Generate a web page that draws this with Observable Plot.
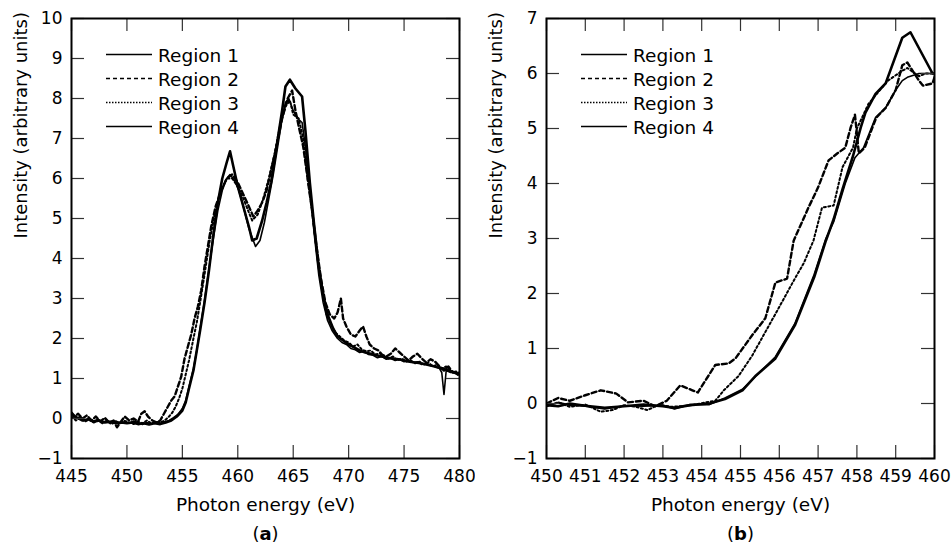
<!DOCTYPE html>
<html>
<head>
<meta charset="utf-8">
<script src="https://cdn.jsdelivr.net/npm/d3@7"></script>
<script src="https://cdn.jsdelivr.net/npm/@observablehq/plot@0.6"></script>
<style>
  body { margin: 0; background: white; }
  #wrap { display: flex; width: 951px; height: 551px; font-family: "DejaVu Sans", sans-serif; }
  .panel { position: relative; height: 551px; }
  .legend { position: absolute; left: 0; top: 0; pointer-events: none; }
</style>
</head>
<body>
<div id="wrap">
  <div class="panel" id="pa" style="width:475px"></div>
  <div class="panel" id="pb" style="width:476px"></div>
</div>
<script>
// ---------- tick labels / categories ----------
const regionNames = ["Region 1", "Region 2", "Region 3", "Region 4"];
const xTicksA = [445, 450, 455, 460, 465, 470, 475, 480];
const yTicksA = [-1, 0, 1, 2, 3, 4, 5, 6, 7, 8, 9, 10];
const xTicksB = [450, 451, 452, 453, 454, 455, 456, 457, 458, 459, 460];
const yTicksB = [-1, 0, 1, 2, 3, 4, 5, 6, 7];

// ---------- Panel (a) data ----------
const a1E = [445.0,445.5,446.0,446.5,447.0,447.5,448.0,448.5,449.0,449.5,450.0,450.5,451.0,451.5,452.0,452.5,453.0,453.5,454.0,454.5,455.0,455.3,455.6,456.0,456.3,456.6,457.0,457.4,457.8,458.2,458.6,459.0,459.3,459.6,460.0,460.5,461.0,461.3,461.7,462.2,462.6,463.0,463.5,464.0,464.3,464.7,465.2,465.8,466.1,466.5,466.9,467.3,467.7,468.1,468.6,469.0,469.5,470.0,470.5,471.0,471.5,472.0,472.5,473.0,473.5,474.0,474.5,475.0,475.5,476.0,476.5,477.0,477.5,478.0,478.5,479.0,479.5,480.0];
const a1I = [0.10,0.02,-0.05,-0.02,-0.08,-0.05,-0.10,-0.08,-0.12,-0.10,-0.12,-0.10,-0.14,-0.12,-0.15,-0.12,-0.14,-0.10,-0.05,0.05,0.20,0.40,0.75,1.20,1.70,2.20,2.90,3.70,4.60,5.40,6.00,6.40,6.68,6.30,5.80,5.30,4.80,4.45,4.50,4.95,5.40,5.90,6.80,7.70,8.30,8.47,8.25,8.05,7.20,5.90,4.80,3.80,3.10,2.60,2.25,2.05,1.95,1.85,1.78,1.70,1.65,1.62,1.58,1.55,1.52,1.50,1.48,1.45,1.42,1.40,1.38,1.35,1.32,1.28,1.25,1.20,1.15,1.10];

const a2E = [445.0,445.3,445.6,446.0,446.4,446.8,447.2,447.6,448.0,448.4,448.8,449.1,449.4,449.8,450.2,450.6,451.0,451.3,451.6,451.9,452.3,452.7,453.0,453.4,453.7,454.0,454.3,454.6,454.9,455.2,455.5,455.8,456.1,456.4,456.7,457.0,457.3,457.6,458.0,458.5,459.0,459.5,460.0,460.5,461.0,461.4,461.8,462.2,462.6,463.0,463.5,464.0,464.5,464.9,465.2,465.5,465.9,466.3,466.7,467.1,467.5,467.9,468.3,468.7,469.0,469.3,469.5,469.8,470.2,470.6,471.0,471.3,471.6,471.9,472.3,472.7,473.0,473.4,473.8,474.2,474.6,475.0,475.4,475.8,476.2,476.6,477.0,477.4,477.8,478.2,478.6,479.0,479.4,479.8,480.0];
const a2I = [0.15,0.05,0.12,0.0,0.08,-0.05,0.05,-0.08,0.02,-0.10,-0.05,-0.22,-0.10,0.05,-0.05,0.0,-0.08,0.12,0.18,0.05,-0.05,-0.10,-0.05,0.15,0.30,0.45,0.55,0.80,1.05,1.50,1.80,2.10,2.50,2.80,3.20,3.80,4.30,4.80,5.30,5.70,6.00,6.10,5.90,5.60,5.30,5.05,5.20,5.40,5.70,6.20,6.80,7.50,8.00,8.20,7.70,7.30,6.80,6.00,5.20,4.30,3.50,2.90,2.60,2.50,2.65,3.00,2.50,2.30,2.10,2.05,2.20,2.30,2.05,1.85,1.75,1.70,1.60,1.55,1.62,1.75,1.65,1.55,1.45,1.55,1.62,1.50,1.40,1.48,1.42,1.30,1.20,1.30,1.15,1.18,1.10];

const a3E = [445.0,445.4,445.8,446.2,446.6,447.0,447.4,447.8,448.2,448.6,449.0,449.4,449.8,450.2,450.6,451.0,451.4,451.8,452.2,452.6,453.0,453.4,453.8,454.1,454.4,454.7,455.0,455.3,455.6,456.0,456.3,456.6,457.0,457.5,458.0,458.5,459.0,459.5,460.0,460.5,461.0,461.3,461.8,462.3,462.8,463.3,463.8,464.3,464.7,465.0,465.5,465.9,466.3,466.8,467.2,467.6,468.0,468.4,468.8,469.2,469.6,470.0,470.4,470.8,471.2,471.6,472.0,472.4,472.8,473.2,473.6,474.0,474.4,474.8,475.2,475.6,476.0,476.4,476.8,477.2,477.6,478.0,478.4,478.8,479.2,479.6,480.0];
const a3I = [0.05,-0.05,0.02,-0.08,-0.02,-0.10,-0.05,-0.12,-0.06,-0.14,-0.08,-0.12,-0.06,-0.10,-0.14,-0.08,-0.12,-0.05,-0.12,-0.08,-0.10,-0.05,0.05,0.15,0.30,0.50,0.75,1.10,1.45,2.00,2.40,2.90,3.60,4.50,5.20,5.70,6.00,6.00,5.80,5.50,5.15,4.95,5.10,5.50,6.00,6.60,7.30,7.80,7.95,7.60,7.50,7.00,6.00,5.00,4.00,3.20,2.60,2.35,2.15,2.05,1.95,1.90,1.80,1.85,1.72,1.68,1.70,1.60,1.63,1.55,1.50,1.55,1.45,1.50,1.42,1.45,1.38,1.42,1.35,1.40,1.30,1.35,1.25,1.30,1.20,1.15,1.05];

const a4E = [445.0,445.4,445.8,446.2,446.6,447.0,447.4,447.8,448.2,448.6,449.0,449.4,449.8,450.2,450.6,451.0,451.4,451.8,452.2,452.6,453.0,453.4,453.8,454.2,454.6,455.0,455.3,455.6,456.0,456.3,456.6,457.0,457.4,457.8,458.2,458.6,459.0,459.3,459.7,460.1,460.5,461.0,461.6,462.0,462.4,462.8,463.2,463.6,464.0,464.3,464.6,465.0,465.4,465.8,466.1,466.5,466.9,467.3,467.7,468.1,468.5,469.0,469.4,469.8,470.2,470.6,471.0,471.4,471.8,472.2,472.6,473.0,473.4,473.8,474.2,474.6,475.0,475.4,475.8,476.2,476.6,477.0,477.4,477.8,478.2,478.4,478.6,478.8,479.2,479.6,480.0];
const a4I = [0.15,0.0,0.05,-0.05,0.0,-0.06,-0.02,-0.10,-0.05,-0.10,-0.06,-0.12,-0.08,-0.12,-0.06,-0.10,-0.15,-0.10,-0.14,-0.08,-0.12,-0.08,-0.05,0.02,0.10,0.25,0.45,0.80,1.25,1.70,2.25,2.95,3.75,4.50,5.20,5.70,6.00,6.10,5.95,5.70,5.30,4.75,4.30,4.45,4.90,5.50,6.10,6.80,7.50,7.90,8.00,7.70,7.50,7.40,6.80,5.70,4.60,3.60,2.90,2.45,2.20,2.00,1.90,1.85,1.75,1.72,1.65,1.68,1.60,1.58,1.52,1.55,1.48,1.50,1.45,1.48,1.42,1.45,1.40,1.42,1.35,1.38,1.32,1.30,1.25,1.15,0.60,1.20,1.15,1.15,1.10];

// ---------- Panel (b) data ----------
const b1E = [450.0,450.3,450.6,451.0,451.5,452.0,452.5,453.0,453.3,453.7,454.2,454.6,455.05,455.4,455.9,456.4,456.9,457.2,457.4,457.63,457.9,458.1,458.22,458.48,458.74,459.17,459.38,459.95,460.0];
const b1I = [-0.03,-0.05,0.0,-0.04,-0.08,-0.05,-0.02,-0.05,-0.08,-0.03,0.0,0.08,0.24,0.51,0.82,1.42,2.30,2.96,3.35,3.90,4.50,5.02,5.29,5.63,5.82,6.65,6.75,6.0,6.0];

const b2E = [450.0,450.3,450.6,451.0,451.4,451.8,452.1,452.5,452.8,453.1,453.45,453.76,453.9,454.17,454.35,454.7,454.87,455.3,455.64,455.9,456.2,456.37,456.75,457.0,457.27,457.5,457.7,457.84,457.95,458.05,458.2,458.5,458.75,459.0,459.17,459.3,459.6,459.7,459.95,460.1];
const b2I = [0.0,0.10,0.05,0.15,0.24,0.18,0.02,0.05,-0.05,0.05,0.33,0.24,0.20,0.50,0.70,0.73,0.82,1.24,1.55,2.20,2.27,2.96,3.56,3.93,4.42,4.55,4.65,5.02,5.25,4.55,4.65,5.20,5.38,5.70,6.15,6.20,5.87,5.78,5.82,6.15];

const b3E = [450.0,450.3,450.6,451.0,451.4,451.7,452.0,452.3,452.6,452.9,453.2,453.5,453.76,454.1,454.35,454.57,454.95,455.3,455.64,455.98,456.4,456.63,456.88,457.1,457.4,457.63,457.9,458.0,458.3,458.8,459.17,459.3,459.6,459.77,460.0];
const b3I = [-0.05,0.02,-0.06,-0.02,-0.15,-0.12,-0.03,-0.06,-0.12,-0.02,-0.06,-0.05,-0.03,0.02,0.05,0.24,0.50,0.87,1.30,1.73,2.27,2.55,2.96,3.56,3.60,4.30,4.65,5.00,5.45,5.87,6.05,6.10,5.95,6.00,6.00];

const b4E = [450.0,450.3,450.6,451.0,451.5,452.0,452.5,453.0,453.3,453.7,454.2,454.6,455.05,455.4,455.9,456.4,456.9,457.2,457.4,457.7,457.95,458.17,458.48,458.74,459.0,459.17,459.3,459.6,460.0];
const b4I = [-0.05,0.02,-0.03,-0.05,-0.10,-0.04,-0.05,-0.03,-0.10,-0.02,-0.02,0.10,0.26,0.50,0.85,1.45,2.35,3.00,3.30,4.00,4.47,4.65,5.20,5.38,5.70,5.87,5.93,6.00,6.00];

// ---------- line styles (not data) ----------
const styles = [
  {strokeWidth: 2.6, dash: null, legendWidth: 1.6, legendDash: null},
  {strokeWidth: 2.4, dash: "5,3", legendWidth: 1.6, legendDash: "4,3"},
  {strokeWidth: 2.0, dash: "2,2.5", legendWidth: 1.4, legendDash: "1.5,1.5"},
  {strokeWidth: 1.6, dash: null, legendWidth: 1.6, legendDash: null}
];

function rows(E, I) { return E.map((e, i) => ({E: e, I: I[i]})); }
const fmtInt = d => (d < 0 ? "\u2212" + Math.abs(d) : String(d));

function makePanel(el, width, marginRight, xDomain, yDomain, xTicks, yTicks, seriesData, caption) {
  const mT = 18, mB = 93, mL = 71, H = 551;
  const innerH = H - mT - mB, innerW = width - mL - marginRight;
  const tk = 13;
  const lineMarks = seriesData.map((d, i) => Plot.line(d, {
    x: "E", y: "I", stroke: "black",
    strokeWidth: styles[i].strokeWidth,
    strokeDasharray: styles[i].dash,
    strokeLinejoin: "round",
    clip: true
  }));
  const tickStroke = "#333";
  const chart = Plot.plot({
    width, height: H,
    marginLeft: mL, marginRight, marginTop: mT, marginBottom: mB,
    style: {fontFamily: "DejaVu Sans, sans-serif", fontSize: "17px", color: "black", background: "white", overflow: "visible"},
    x: {domain: xDomain},
    y: {domain: yDomain},
    marks: [
      ...lineMarks,
      // inward ticks on all four sides
      Plot.ruleX(xTicks, {x: d => d, insetTop: innerH - tk, stroke: tickStroke, strokeWidth: 1.2}),
      Plot.ruleX(xTicks, {x: d => d, insetBottom: innerH - tk, stroke: tickStroke, strokeWidth: 1.2}),
      Plot.ruleY(yTicks, {y: d => d, insetRight: innerW - tk, stroke: tickStroke, strokeWidth: 1.2}),
      Plot.ruleY(yTicks, {y: d => d, insetLeft: innerW - tk, stroke: tickStroke, strokeWidth: 1.2}),
      Plot.axisX(xTicks, {anchor: "bottom", tickSize: 0, tickPadding: 11, label: null, fontSize: 17, tickFormat: fmtInt}),
      Plot.axisY(yTicks, {anchor: "left", tickSize: 0, tickPadding: 9, label: null, fontSize: 17, tickFormat: fmtInt}),
      Plot.frame({stroke: "black", strokeWidth: 2}),
      Plot.text(["Photon energy (eV)"], {frameAnchor: "bottom", dy: 47, fontSize: 18.5, lineAnchor: "middle"}),
      Plot.text(["Intensity (arbitrary units)"], {frameAnchor: "left", dx: -50, rotate: -90, fontSize: 18, lineAnchor: "middle"}),
      Plot.text([caption], {frameAnchor: "bottom", dy: 76, fontSize: 18, lineAnchor: "middle", className: "cap"})
    ]
  });
  el.appendChild(chart);
  // bold letter inside the caption parentheses
  d3.select(chart).selectAll(".cap text").each(function () {
    const t = d3.select(this);
    const s = t.text();
    t.text(null);
    t.append("tspan").text("(");
    t.append("tspan").attr("font-weight", "bold").text(s.slice(1, -1));
    t.append("tspan").text(")");
  });
  // legend overlay
  const lg = d3.select(el).append("svg").attr("class", "legend")
    .attr("width", 300).attr("height", 150)
    .style("font-family", "DejaVu Sans, sans-serif").style("font-size", "18.5px");
  regionNames.forEach((name, i) => {
    const y = 54.5 + 24 * i;
    lg.append("line").attr("x1", 106).attr("x2", 152).attr("y1", y).attr("y2", y)
      .attr("stroke", "black").attr("stroke-width", styles[i].legendWidth)
      .attr("stroke-dasharray", styles[i].legendDash);
    lg.append("text").attr("x", 158).attr("y", y + 1).attr("dominant-baseline", "central")
      .attr("fill", "black").text(name);
  });
}

makePanel(document.getElementById("pa"), 475, 16, [445, 480], [-1, 10], xTicksA, yTicksA,
  [rows(a1E, a1I), rows(a2E, a2I), rows(a3E, a3I), rows(a4E, a4I)], "(a)");
makePanel(document.getElementById("pb"), 476, 17, [450, 460], [-1, 7], xTicksB, yTicksB,
  [rows(b1E, b1I), rows(b2E, b2I), rows(b3E, b3I), rows(b4E, b4I)], "(b)");
</script>
</body>
</html>
